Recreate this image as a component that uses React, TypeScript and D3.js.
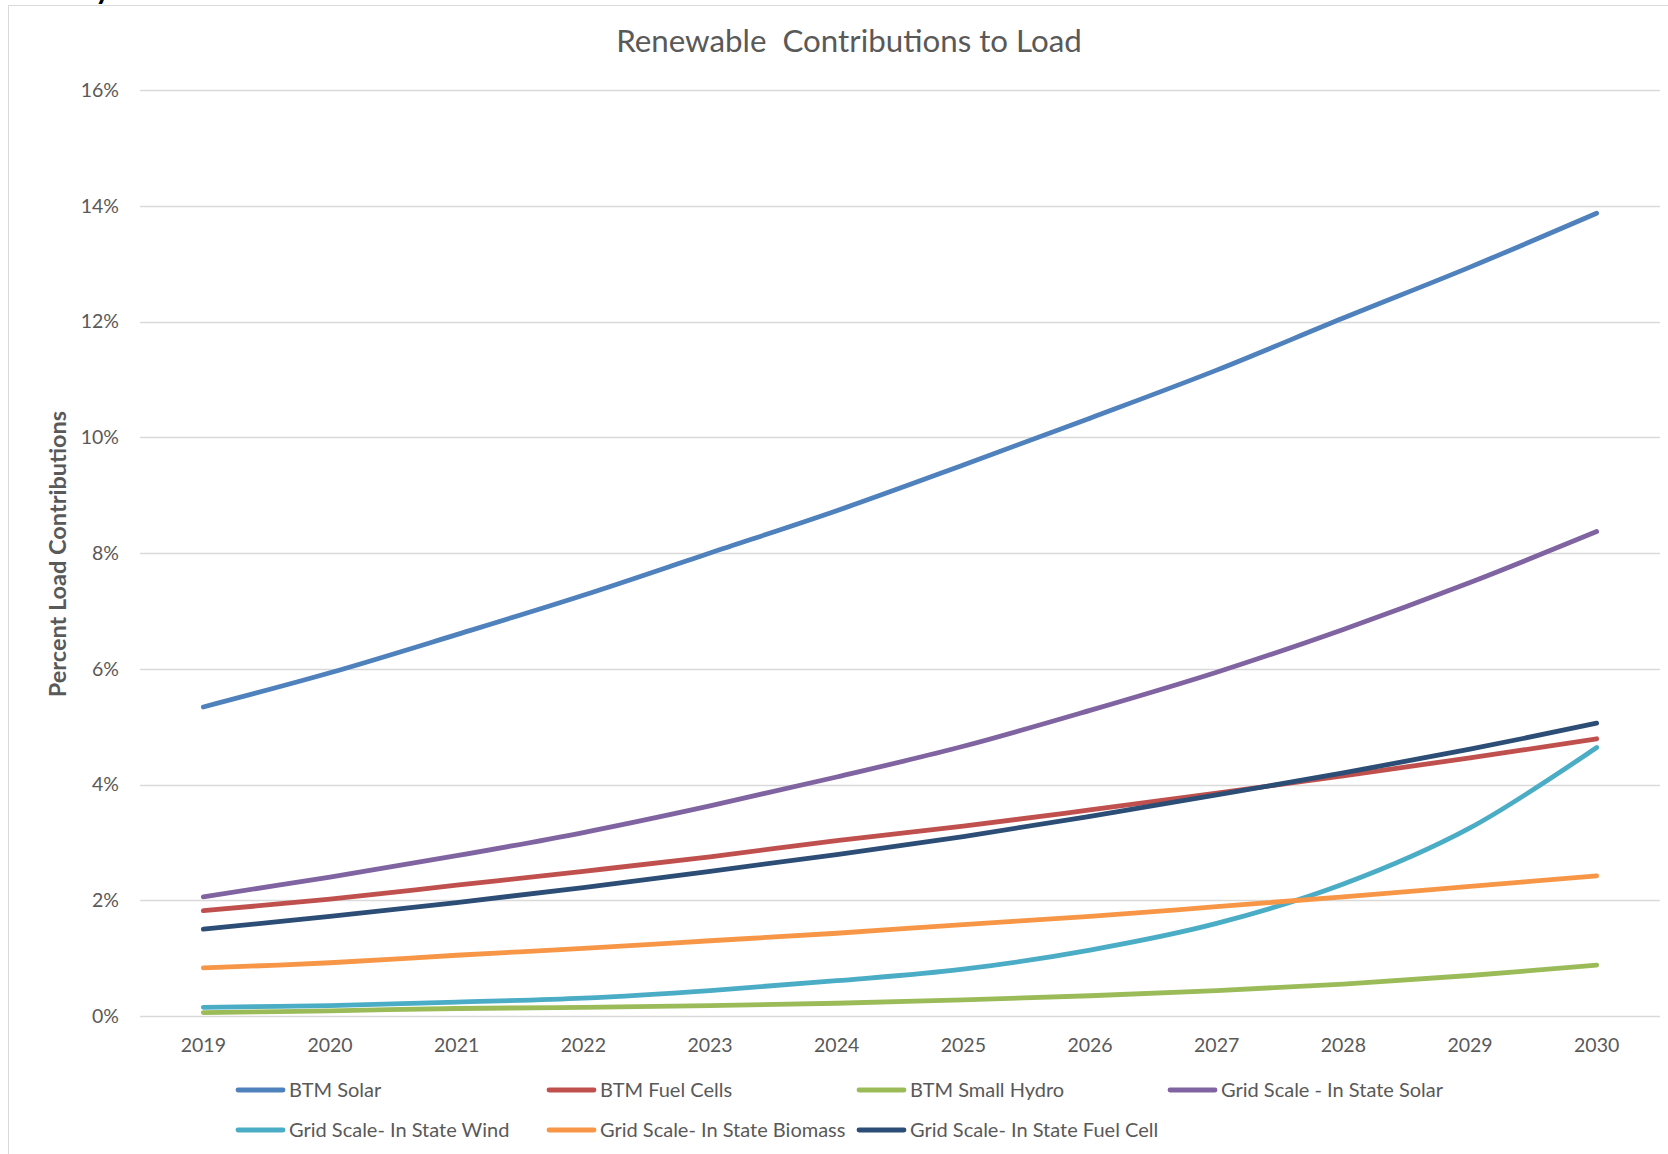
import React from "react";
import * as d3 from "d3";

const years = ["2019", "2020", "2021", "2022", "2023", "2024", "2025", "2026", "2027", "2028", "2029", "2030"];

const btmSolar = [5.34, 5.93, 6.59, 7.27, 8.0, 8.73, 9.52, 10.33, 11.16, 12.06, 12.94, 13.87];
const btmFuelCells = [1.82, 2.02, 2.26, 2.5, 2.75, 3.03, 3.28, 3.56, 3.85, 4.15, 4.46, 4.79];
const btmSmallHydro = [0.06, 0.09, 0.13, 0.15, 0.18, 0.22, 0.28, 0.35, 0.44, 0.55, 0.7, 0.88];
const gridSolar = [2.06, 2.4, 2.77, 3.17, 3.63, 4.13, 4.66, 5.28, 5.94, 6.68, 7.49, 8.37];
const gridWind = [0.15, 0.18, 0.24, 0.31, 0.44, 0.61, 0.81, 1.14, 1.6, 2.28, 3.25, 4.64];
const gridBiomass = [0.83, 0.92, 1.05, 1.17, 1.3, 1.43, 1.58, 1.72, 1.89, 2.06, 2.24, 2.42];
const gridFuelCell = [1.5, 1.72, 1.96, 2.22, 2.5, 2.79, 3.1, 3.45, 3.82, 4.2, 4.61, 5.06];

const seriesNames = [
  "BTM Solar",
  "BTM Fuel Cells",
  "BTM Small Hydro",
  "Grid Scale - In State Solar",
  "Grid Scale- In State Wind",
  "Grid Scale- In State Biomass",
  "Grid Scale- In State Fuel Cell",
];
const seriesValues = [btmSolar, btmFuelCells, btmSmallHydro, gridSolar, gridWind, gridBiomass, gridFuelCell];
const seriesColors = ["#4F81BD", "#C0504D", "#9BBB59", "#8064A2", "#4BACC6", "#F79646", "#2C4D75"];

const yTicks = [0, 0.02, 0.04, 0.06, 0.08, 0.1, 0.12, 0.14, 0.16];

const W = 1668;
const H = 1154;
const FONT = "Lato, 'Open Sans', sans-serif";
const TEXT = "#595959";

export default function App() {
  const x = d3.scalePoint<string>().domain(years).range([140, 1660]).padding(0.5);
  const y = d3.scaleLinear().domain([0, 0.16]).range([1016, 90]);
  const fmt = d3.format(".0%");

  const line = d3
    .line<number>()
    .x((_, i) => x(years[i]) as number)
    .y((v) => y(v / 100))
    .curve(d3.curveCatmullRom.alpha(0.5));

  const legendCols = [236, 547, 857, 1168];
  const legendRows = [1090, 1130];

  return (
    <div style={{ position: "absolute", left: 0, top: 0, width: W, height: H, overflow: "hidden", background: "#fff" }}>
      <svg width={W} height={H} style={{ display: "block", fontFamily: FONT }}>
        <rect x={0} y={0} width={W} height={H} fill="#fff" />
        <text x={95} y={-1} fontSize={30} fontWeight="bold" fill="#000">y</text>
        <rect x={8.5} y={5.5} width={W + 20} height={H + 20} fill="none" stroke="#D9D9D9" strokeWidth={1} />

        <text x={849} y={52} textAnchor="middle" fontSize={31.3} fill={TEXT} style={{ whiteSpace: "pre" }}>
          {"Renewable  Contributions to Load"}
        </text>

        {yTicks.map((t) => (
          <g key={t}>
            <line x1={140} x2={1660} y1={Math.round(y(t)) + 0.5} y2={Math.round(y(t)) + 0.5} stroke="#D9D9D9" strokeWidth={1.3} />
            <text x={119} y={y(t)} dy="0.35em" textAnchor="end" fontSize={19.5} fill={TEXT}>
              {fmt(t)}
            </text>
          </g>
        ))}

        {years.map((yr) => (
          <text key={yr} x={x(yr)} y={1052} textAnchor="middle" fontSize={19.5} fill={TEXT}>
            {yr}
          </text>
        ))}

        <text
          transform={`translate(66,554) rotate(-90)`}
          textAnchor="middle"
          fontSize={23.5}
          fontWeight="bold"
          fill={TEXT}
        >
          Percent Load Contributions
        </text>

        {seriesValues.map((vals, i) => (
          <path
            key={seriesNames[i]}
            d={line(vals) || ""}
            fill="none"
            stroke={seriesColors[i]}
            strokeWidth={4.8}
            strokeLinecap="round"
            strokeLinejoin="round"
          />
        ))}

        {seriesNames.map((name, i) => {
          const col = i < 4 ? i : i - 4;
          const row = i < 4 ? 0 : 1;
          const lx = legendCols[col];
          const ly = legendRows[row];
          return (
            <g key={name}>
              <line x1={lx + 2} x2={lx + 47} y1={ly} y2={ly} stroke={seriesColors[i]} strokeWidth={4.8} strokeLinecap="round" />
              <text x={lx + 53} y={ly} dy="0.35em" fontSize={20} fill={TEXT}>
                {name}
              </text>
            </g>
          );
        })}
      </svg>
    </div>
  );
}
